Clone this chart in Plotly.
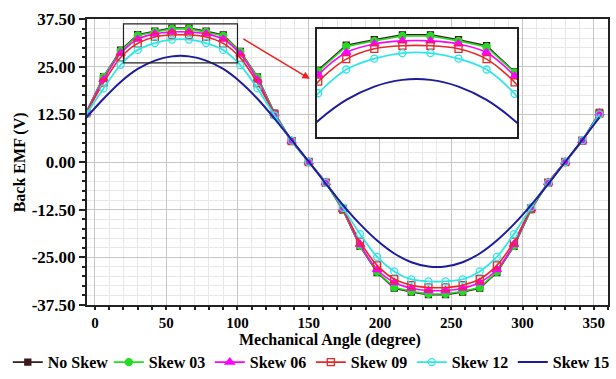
import plotly.graph_objects as go

x_deg = [-6, 6, 18, 30, 42, 54, 66, 78, 90, 102, 114, 126, 138, 150, 162, 174,
         186, 198, 210, 222, 234, 246, 258, 270, 282, 294, 306, 318, 330, 342, 354]

no_skew = [13.1, 22.4, 29.3, 33.4, 34.3, 35.1, 35.1, 34.3, 33.3, 29.0, 22.3, 12.8, 5.5, 0.0,
           -5.4, -12.6, -22.1, -29.0, -33.1, -34.1, -34.8, -34.8, -34.1, -33.1, -29.0, -22.1,
           -12.5, -5.4, 0.0, 5.6, 13.0]
skew03 = [13.0, 22.3, 29.1, 33.2, 34.1, 34.9, 34.9, 34.1, 33.1, 28.9, 22.2, 12.7, 5.5, 0.0,
          -5.4, -12.5, -22.0, -28.8, -32.9, -33.9, -34.6, -34.6, -33.9, -32.9, -28.8, -22.0,
          -12.4, -5.4, 0.0, 5.6, 12.9]
skew06 = [12.9, 21.6, 28.5, 32.2, 33.6, 34.1, 34.1, 33.6, 32.2, 28.3, 21.5, 12.6, 5.5, 0.0,
          -5.4, -12.4, -21.6, -28.2, -31.6, -33.1, -33.7, -33.7, -33.1, -31.6, -28.2, -21.6,
          -12.3, -5.4, 0.0, 5.6, 12.8]
skew09 = [12.8, 20.8, 27.4, 31.1, 32.8, 33.3, 33.3, 32.8, 31.1, 27.3, 20.7, 12.5, 5.5, 0.0,
          -5.4, -12.3, -20.9, -27.1, -30.7, -32.3, -32.9, -32.9, -32.3, -30.7, -27.1, -20.9,
          -12.2, -5.4, 0.0, 5.6, 12.7]
skew12 = [12.6, 19.3, 25.5, 29.4, 31.2, 32.1, 32.1, 31.2, 29.4, 25.4, 19.3, 12.2, 5.6, 0.0,
          -5.5, -12.0, -18.9, -24.9, -28.7, -30.8, -31.3, -31.3, -30.8, -28.7, -24.9, -18.9,
          -11.9, -5.5, 0.0, 5.7, 12.5]
skew15 = [11.7, 16.6, 21.0, 24.4, 26.6, 27.7, 27.7, 26.6, 24.4, 21.0, 16.6, 11.4, 5.8, 0.1,
          -5.7, -11.3, -16.3, -20.6, -24.0, -26.3, -27.4, -27.4, -26.3, -24.0, -20.6, -16.3,
          -11.3, -5.8, 0.0, 5.8, 11.7]

series_names = ["No Skew", "Skew 03", "Skew 06", "Skew 09", "Skew 12", "Skew 15"]
series_values = [no_skew, skew03, skew06, skew09, skew12, skew15]

y_tick_vals = [37.5, 25.0, 12.5, 0.0, -12.5, -25.0, -37.5]
y_tick_text = ["37.50", "25.00", "12.50", "0.00", "-12.50", "-25.00", "-37.50"]
x_tick_vals = [0, 50, 100, 150, 200, 250, 300, 350]

styles = [
    dict(color="#3a1a1a", symbol="square", size=6, shape="linear", width=1.6),
    dict(color="#22dd22", symbol="circle", size=7, shape="linear", width=1.6),
    dict(color="#ff00ff", symbol="triangle-up", size=8, shape="spline", width=1.6),
    dict(color="#e62828", symbol="square-open", size=7, shape="spline", width=1.6),
    dict(color="#2ee6e6", symbol="circle-open", size=7, shape="spline", width=1.8),
    dict(color="#1c1c9c", symbol=None, size=0, shape="spline", width=2.0),
]

FONT = "Liberation Serif"
fig = go.Figure()

for name, vals, st in zip(series_names, series_values, styles):
    for axes, show in (("main", True), ("inset", False)):
        kw = dict(
            x=x_deg, y=vals, name=name, showlegend=show,
            line=dict(color=st["color"], width=st["width"], shape=st["shape"], smoothing=0.8),
        )
        if st["symbol"]:
            kw["mode"] = "lines+markers"
            kw["marker"] = dict(symbol=st["symbol"], size=st["size"], color=st["color"],
                                line=dict(color=st["color"], width=1.3))
        else:
            kw["mode"] = "lines"
        if axes == "inset":
            kw["xaxis"] = "x2"
            kw["yaxis"] = "y2"
        fig.add_trace(go.Scatter(**kw))

fig.update_layout(
    width=616, height=379,
    margin=dict(l=87, r=8, t=19, b=74, autoexpand=False),
    paper_bgcolor="white", plot_bgcolor="white",
    font=dict(family=FONT, size=16, color="black", weight="bold"),
    xaxis=dict(
        range=[-5.6, 360], tickmode="array", tickvals=x_tick_vals, automargin=False,
        ticks="outside", ticklen=3, tickwidth=1.5, tickcolor="#222",
        showline=True, linecolor="#222", linewidth=2, mirror=True,
        showgrid=True, gridcolor="#c6c6c6", gridwidth=1.2, zeroline=False,
        tickfont=dict(family=FONT, size=15, weight="bold"),
        minor=dict(tickmode="linear", tick0=0, dtick=10, ticks="outside", ticklen=3,
                   tickcolor="#222", showgrid=True, gridcolor="#e8e8e8", gridwidth=1),
    ),
    yaxis=dict(
        range=[-37.5, 37.5], tickmode="array", tickvals=y_tick_vals, ticktext=y_tick_text,
        automargin=False,
        ticks="outside", ticklen=6, tickwidth=1.5, tickcolor="#222",
        showline=True, linecolor="#222", linewidth=2, mirror=True,
        showgrid=True, gridcolor="#c6c6c6", gridwidth=1.2, zeroline=False,
        tickfont=dict(family=FONT, size=17, weight="bold"),
        minor=dict(tickmode="linear", tick0=0, dtick=2.5, ticks="outside", ticklen=3,
                   tickcolor="#222", showgrid=True, gridcolor="#e8e8e8", gridwidth=1),
    ),
    xaxis2=dict(
        domain=[0.4415, 0.8253], anchor="y2", range=[17.5, 103], automargin=False,
        showgrid=False, zeroline=False, showticklabels=False, ticks="",
        showline=True, linecolor="#222", linewidth=2, mirror=True,
    ),
    yaxis2=dict(
        domain=[0.587, 0.965], anchor="x2", range=[18.3, 36.05], automargin=False,
        showgrid=False, zeroline=False, showticklabels=False, ticks="",
        showline=True, linecolor="#222", linewidth=2, mirror=True,
    ),
    legend=dict(
        orientation="h", xref="paper", yref="paper",
        x=-0.152, xanchor="left", y=-0.2, yanchor="middle",
        font=dict(family=FONT, size=16, weight="bold"),
        itemwidth=30, entrywidth=56, entrywidthmode="pixels",
        bgcolor="rgba(0,0,0,0)", tracegroupgap=0,
    ),
)

fig.add_shape(type="rect", xref="x", yref="y", x0=20, x1=100, y0=26, y1=36.2,
              line=dict(color="#222", width=1.2))

fig.add_annotation(x=150.8, y=21.8, ax=103.1, ay=32.5, xref="x", yref="y",
                   axref="x", ayref="y", showarrow=True, arrowhead=2, arrowsize=1,
                   arrowwidth=1.5, arrowcolor="#ee2020", text="")

fig.add_annotation(text="Mechanical Angle (degree)", xref="paper", yref="paper",
                   x=0.466, y=-0.123, xanchor="center", yanchor="middle", showarrow=False,
                   font=dict(family=FONT, size=16, weight="bold"))
fig.add_annotation(text="Back EMF (V)", xref="paper", yref="paper",
                   x=-0.128, y=0.5, xanchor="center", yanchor="middle", showarrow=False,
                   textangle=-90, font=dict(family=FONT, size=16, weight="bold"))

fig.write_html("out.html", config={"displayModeBar": False},
               post_script="document.body.style.margin='0';")
